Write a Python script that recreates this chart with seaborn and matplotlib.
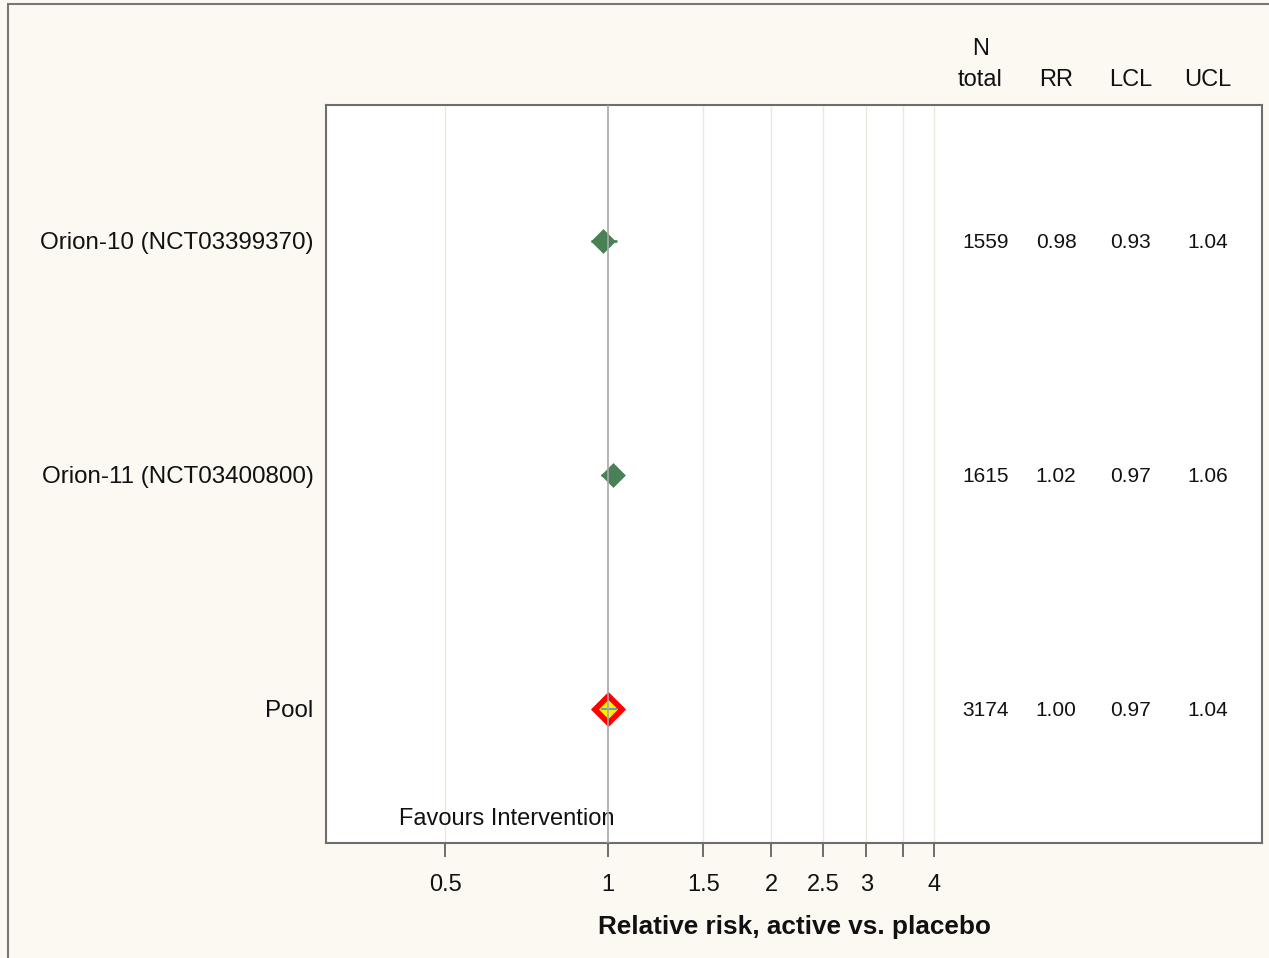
import numpy as np
import pandas as pd
import seaborn as sns
import matplotlib.pyplot as plt
from matplotlib.patches import Rectangle
from matplotlib.transforms import blended_transform_factory

# Data
studies = ["Orion-10 (NCT03399370)", "Orion-11 (NCT03400800)", "Pool"]
n_total = [1559, 1615, 3174]
rr = [0.98, 1.02, 1.00]
lcl = [0.93, 0.97, 0.97]
ucl = [1.04, 1.06, 1.04]

tick_values = [0.5, 1, 1.5, 2, 2.5, 3, 3.5, 4]
tick_labels = ["0.5", "1", "1.5", "2", "2.5", "3", "", "4"]
table_headers = ["total", "RR", "LCL", "UCL"]

df = pd.DataFrame({"study": studies, "n": n_total, "rr": rr, "lcl": lcl, "ucl": ucl})
df["pos"] = np.arange(len(df))
df["kind"] = ["study", "study", "pool"]

sns.set_theme(style="white")
plt.rcParams["font.family"] = ["Liberation Sans", "DejaVu Sans"]

bg = "#fcf9f2"
fig = plt.figure(figsize=(12.69, 9.58), dpi=100, facecolor=bg)
ax = fig.add_axes([0.2569, 0.12, 0.7376, 0.7704])
ax.set_facecolor("white")

# frame around the whole figure (left/top edges visible)
fig.patches.append(Rectangle((8 / 1269, -0.05), 1.2, 1.0 - 4.5 / 958 + 0.05,
                             transform=fig.transFigure, fill=False,
                             edgecolor="#777777", linewidth=1.5, zorder=0))

ax.set_xscale("log")

# grid lines and reference line (reference line drawn over the markers)
for v in tick_values:
    if v != 1:
        ax.axvline(v, color="#ece8da", linewidth=1.0, zorder=0)
ax.axvline(1, color="#a8a8a8", linewidth=1.2, zorder=6)

studies_df = df[df["kind"] == "study"]
pool_df = df[df["kind"] == "pool"]

# confidence intervals for individual studies
ax.hlines(studies_df["pos"], studies_df["lcl"], studies_df["ucl"],
          color="#4f8a5b", linewidth=2, zorder=2)
sns.scatterplot(data=studies_df, x="rr", y="pos", marker="D", s=160,
                color="#4a8055", edgecolor="#4a8055", linewidth=0, ax=ax,
                zorder=3, legend=False)

# pooled estimate
sns.scatterplot(data=pool_df, x="rr", y="pos", marker="D", s=320,
                color="#ff0000", edgecolor="#ff0000", linewidth=0, ax=ax,
                zorder=3, legend=False)
sns.scatterplot(data=pool_df, x="rr", y="pos", marker="D", s=95,
                color="#ffee00", edgecolor="#ffee00", linewidth=0, ax=ax,
                zorder=4, legend=False)
ax.hlines(pool_df["pos"], pool_df["lcl"], pool_df["ucl"],
          color="#6a9ec0", linewidth=1.5, zorder=5)

lo = 10 ** ((326 - 608) / 541.5)
hi = 10 ** ((1262 - 608) / 541.5)
ax.set_xlim(lo, hi)
ax.set_ylim(2.573, -0.581)

ax.set_xticks(tick_values)
ax.set_xticklabels(tick_labels, fontsize=17)
ax.xaxis.set_minor_locator(plt.NullLocator())
ax.tick_params(axis="x", length=10, width=1.2, color="#555555", pad=12,
               bottom=True, labelcolor="#111111")
ax.set_yticks(df["pos"])
ax.set_yticklabels(studies, fontsize=17.4, color="#111111")
ax.tick_params(axis="y", length=0, pad=9)

ax.set_xlabel("Relative risk, active vs. placebo", fontsize=18.8,
              fontweight="bold", labelpad=14, color="#111111")
ax.set_ylabel("")

for sp in ax.spines.values():
    sp.set_color("#6e6e6e")
    sp.set_linewidth(1.5)

# table columns
col_x = [0.705, 0.780, 0.860, 0.942]
tr = blended_transform_factory(ax.transAxes, ax.transData)
for i, row in df.iterrows():
    vals = [f"{row['n']}", f"{row['rr']:.2f}", f"{row['lcl']:.2f}", f"{row['ucl']:.2f}"]
    for cx, txt in zip(col_x, vals):
        ax.text(cx, row["pos"] + 0.005, txt, transform=tr, ha="center", va="center",
                fontsize=15, color="#111111")

header_x = [0.699, 0.780, 0.860, 0.942]
for hx, h in zip(header_x, table_headers):
    ax.text(hx, 1.0339, h, transform=ax.transAxes, ha="center", va="center",
            fontsize=17, color="#111111")
ax.text(header_x[0], 1.076, "N", transform=ax.transAxes, ha="center",
        va="center", fontsize=17, color="#111111")

ax.text(0.193, 0.0325, "Favours Intervention", transform=ax.transAxes,
        ha="center", va="center", fontsize=17, color="#111111")

fig.savefig("out.png", dpi=100, facecolor=bg)
